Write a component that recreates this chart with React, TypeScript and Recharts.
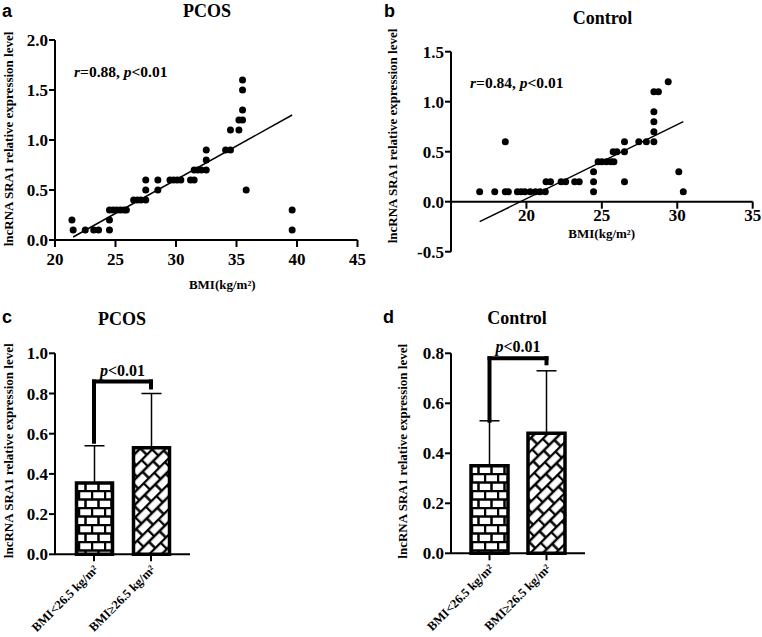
import React from "react";
import {
    Bar,
    BarChart,
    Cell,
    ErrorBar,
    Label,
    ReferenceLine,
    Scatter,
    ScatterChart,
    XAxis,
    YAxis,
} from "recharts";

const SERIF = '"Liberation Serif", "Times New Roman", serif';
const SANS = '"Liberation Sans", Arial, sans-serif';

// panel a - PCOS, BMI vs level
const pcosBmi = [21.4, 21.5, 22.5, 23.2, 23.6, 24.5, 24.5, 24.5, 24.8, 25.1, 25.4, 25.7, 25.9, 26.5, 26.8, 27.1, 27.5, 27.5, 27.5, 28.5, 28.5, 29.5, 29.8, 30.1, 30.4, 31.2, 31.5, 31.5, 31.8, 32.1, 32.5, 32.5, 32.5, 34.1, 34.5, 34.5, 35.2, 35.2, 35.5, 35.5, 35.5, 35.5, 35.8, 39.6, 39.6];
const pcosLevel = [0.2, 0.1, 0.1, 0.1, 0.1, 0.1, 0.2, 0.3, 0.3, 0.3, 0.3, 0.3, 0.3, 0.4, 0.4, 0.4, 0.4, 0.5, 0.6, 0.5, 0.6, 0.6, 0.6, 0.6, 0.6, 0.6, 0.6, 0.7, 0.7, 0.7, 0.7, 0.8, 0.9, 0.9, 0.9, 1.1, 1.1, 1.2, 1.2, 1.3, 1.5, 1.6, 0.5, 0.3, 0.1];
const pcosFitBmi = [21.5, 39.6];
const pcosFitLevel = [0.03, 1.25];
const aXTicks = [20, 25, 30, 35, 40, 45];
const aYTicks = [0, 0.5, 1, 1.5, 2];

// panel b - Control, BMI vs level
const ctrlBmi = [16.9, 17.9, 18.6, 18.6, 18.8, 19.4, 19.65, 19.9, 20.25, 20.6, 20.9, 21.25, 21.3, 21.6, 22.3, 22.6, 23.2, 23.5, 24.45, 24.45, 24.45, 24.75, 25.0, 25.3, 25.6, 25.8, 25.75, 26.0, 26.5, 26.5, 26.5, 27.45, 27.95, 28.45, 28.45, 28.45, 28.45, 28.45, 28.75, 29.4, 30.1, 30.4];
const ctrlLevel = [0.1, 0.1, 0.6, 0.1, 0.1, 0.1, 0.1, 0.1, 0.1, 0.1, 0.1, 0.1, 0.2, 0.2, 0.2, 0.2, 0.2, 0.2, 0.3, 0.2, 0.1, 0.4, 0.4, 0.4, 0.4, 0.4, 0.5, 0.5, 0.6, 0.5, 0.2, 0.6, 0.6, 0.6, 0.7, 0.8, 0.9, 1.1, 1.1, 1.2, 0.3, 0.1];
const ctrlFitBmi = [16.9, 30.4];
const ctrlFitLevel = [-0.2, 0.8];
const bXTicks = [20, 25, 30, 35];
const bYTicks = [-0.5, 0, 0.5, 1, 1.5];

// panels c, d - bar groups
const groups = ["BMI<26.5 kg/m²", "BMI≥26.5 kg/m²"];
const pcosMeans = [0.355, 0.53];
const pcosSd = [0.185, 0.27];
const ctrlMeans = [0.35, 0.48];
const ctrlSd = [0.18, 0.25];
const pcosBracket = [0.56, 0.86, 0.83];
const ctrlBracket = [0.53, 0.78, 0.76];
const cYTicks = [0, 0.2, 0.4, 0.6, 0.8, 1];
const dYTicks = [0, 0.2, 0.4, 0.6, 0.8];

const pcosPoints = pcosBmi.map((b, i) => ({ bmi: b, level: pcosLevel[i] }));
const ctrlPoints = ctrlBmi.map((b, i) => ({ bmi: b, level: ctrlLevel[i] }));
const pcosBars = groups.map((g, i) => ({ name: g, mean: pcosMeans[i], err: [0, pcosSd[i]] }));
const ctrlBars = groups.map((g, i) => ({ name: g, mean: ctrlMeans[i], err: [0, ctrlSd[i]] }));

const tickStyle = { fontFamily: SERIF, fontWeight: 700, fontSize: 17, fill: "#000" };
const axisStyle = { stroke: "#000", strokeWidth: 2 };
const fmt = (v: number) => v.toFixed(1);
const Y_TITLE = "lncRNA SRA1 relative expression level";

const Dot = (p: any) => <circle cx={p.cx} cy={p.cy} r={3.5} fill="#000" />;

const yTitle = (x: number, dy: number) => (p: any) => {
    const vb = p.viewBox;
    const cy = vb.y + vb.height / 2 + dy;
    return (
        <text
            x={x}
            y={cy}
            transform={`rotate(-90 ${x} ${cy})`}
            textAnchor="middle"
            dominantBaseline="central"
            fontFamily={SERIF}
            fontWeight={700}
            fontSize={13}
            fill="#000"
        >
            {Y_TITLE}
        </text>
    );
};

const xTitleA = (p: any) => {
    const vb = p.viewBox;
    return (
        <text x={vb.x + vb.width / 2 + 16} y={vb.y + 49} textAnchor="middle" fontFamily={SERIF} fontWeight={700} fontSize={13} fill="#000">
            BMI(kg/m²)
        </text>
    );
};

const pLabel = (lift: number) => (p: any) => {
    const vb = p.viewBox;
    return (
        <text x={vb.x + vb.width / 2} y={vb.y - lift} textAnchor="middle" fontFamily={SERIF} fontWeight={700} fontSize={16} fill="#000">
            <tspan fontStyle="italic">p</tspan>
            {"<0.01"}
        </text>
    );
};

function CatTick({ x, y, payload }: any) {
    return (
        <g transform={`translate(${x + 5}, ${y + 7}) rotate(-45)`}>
            <text x={0} y={0} textAnchor="end" fontFamily={SERIF} fontWeight={700} fontSize={12.5} fill="#000">
                {payload.value}
            </text>
        </g>
    );
}

export default function App() {
    return (
        <div style={{ position: "absolute", left: 0, top: 0, width: 762, height: 637, background: "#fff", overflow: "hidden" }}>
            {/* a */}
            <div style={{ position: "absolute", left: 0, top: 0 }}>
                <ScatterChart width={380} height={300} margin={{ top: 40, right: 22.5, bottom: 0, left: 0 }}>
                    <XAxis type="number" dataKey="bmi" domain={[20, 45]} ticks={aXTicks} axisLine={axisStyle} tickLine={axisStyle} tickSize={7} tickMargin={6} tick={tickStyle} height={60}>
                        <Label content={xTitleA} />
                    </XAxis>
                    <YAxis type="number" dataKey="level" domain={[0, 2]} ticks={aYTicks} tickFormatter={fmt} axisLine={axisStyle} tickLine={axisStyle} tickSize={6} tickMargin={1} tick={tickStyle} width={55}>
                        <Label content={yTitle(8, -1)} />
                    </YAxis>
                    <ReferenceLine segment={[{ x: pcosFitBmi[0], y: pcosFitLevel[0] }, { x: pcosFitBmi[1], y: pcosFitLevel[1] }]} stroke="#000" strokeWidth={1.5} />
                    <Scatter data={pcosPoints} shape={Dot} isAnimationActive={false} />
                </ScatterChart>
            </div>

            {/* b */}
            <div style={{ position: "absolute", left: 380, top: 0 }}>
                <ScatterChart width={382} height={300} margin={{ top: 51.7, right: 9.3, bottom: 48.3, left: 0 }}>
                    <XAxis type="number" dataKey="bmi" domain={[15, 35]} hide />
                    <YAxis type="number" dataKey="level" domain={[-0.5, 1.5]} ticks={bYTicks} tickFormatter={fmt} axisLine={axisStyle} tickLine={axisStyle} tickSize={6} tickMargin={1} tick={tickStyle} width={71}>
                        <Label content={yTitle(12, -15.7)} />
                    </YAxis>
                    <ReferenceLine y={0} stroke="#000" strokeWidth={2} />
                    {bXTicks.map((t) => (
                        <ReferenceLine
                            key={t}
                            segment={[{ x: t, y: 0 }, { x: t, y: -0.07 }]}
                            stroke="#000"
                            strokeWidth={2}
                            label={{ value: t, position: "bottom", offset: 0, ...tickStyle }}
                        />
                    ))}
                    <ReferenceLine segment={[{ x: ctrlFitBmi[0], y: ctrlFitLevel[0] }, { x: ctrlFitBmi[1], y: ctrlFitLevel[1] }]} stroke="#000" strokeWidth={1.5} />
                    <Scatter data={ctrlPoints} shape={Dot} isAnimationActive={false} />
                </ScatterChart>
            </div>

            {/* c */}
            <div style={{ position: "absolute", left: 0, top: 320 }}>
                <BarChart width={380} height={317} data={pcosBars} margin={{ top: 33.3, right: 190, bottom: 0, left: 0 }}>
                    <XAxis dataKey="name" interval={0} height={82.7} padding={{ left: 10.5, right: 10.5 }} axisLine={axisStyle} tickLine={axisStyle} tickSize={7} tickMargin={2} tick={<CatTick />} />
                    <YAxis domain={[0, 1]} ticks={cYTicks} tickFormatter={fmt} axisLine={axisStyle} tickLine={axisStyle} tickSize={6} tickMargin={1} tick={tickStyle} width={55}>
                        <Label content={yTitle(9, -3)} />
                    </YAxis>
                    <Bar dataKey="mean" barSize={36} stroke="#000" strokeWidth={3.5} isAnimationActive={false}>
                        <Cell fill="url(#brick)" />
                        <Cell fill="url(#diag)" />
                        <ErrorBar dataKey="err" width={10} stroke="#000" strokeWidth={1.5} />
                    </Bar>
                    <ReferenceLine segment={[{ x: groups[0], y: pcosBracket[0] }, { x: groups[0], y: pcosBracket[1] }]} stroke="#000" strokeWidth={4} strokeLinecap="square" />
                    <ReferenceLine segment={[{ x: groups[0], y: pcosBracket[1] }, { x: groups[1], y: pcosBracket[1] }]} stroke="#000" strokeWidth={4} strokeLinecap="square" label={{ content: pLabel(5) }} />
                    <ReferenceLine segment={[{ x: groups[1], y: pcosBracket[1] }, { x: groups[1], y: pcosBracket[2] }]} stroke="#000" strokeWidth={4} strokeLinecap="square" />
                </BarChart>
            </div>

            {/* d */}
            <div style={{ position: "absolute", left: 380, top: 320 }}>
                <BarChart width={382} height={317} data={ctrlBars} margin={{ top: 33.3, right: 177, bottom: 0, left: 0 }}>
                    <XAxis dataKey="name" interval={0} height={83.7} padding={{ left: 10, right: 10 }} axisLine={axisStyle} tickLine={axisStyle} tickSize={7} tickMargin={2} tick={<CatTick />} />
                    <YAxis domain={[0, 0.8]} ticks={dYTicks} tickFormatter={fmt} axisLine={axisStyle} tickLine={axisStyle} tickSize={6} tickMargin={1} tick={tickStyle} width={71}>
                        <Label content={yTitle(23, -2)} />
                    </YAxis>
                    <Bar dataKey="mean" barSize={37} stroke="#000" strokeWidth={3.5} isAnimationActive={false}>
                        <Cell fill="url(#brick)" />
                        <Cell fill="url(#diag)" />
                        <ErrorBar dataKey="err" width={10} stroke="#000" strokeWidth={1.5} />
                    </Bar>
                    <ReferenceLine segment={[{ x: groups[0], y: ctrlBracket[0] }, { x: groups[0], y: ctrlBracket[1] }]} stroke="#000" strokeWidth={4} strokeLinecap="square" />
                    <ReferenceLine segment={[{ x: groups[0], y: ctrlBracket[1] }, { x: groups[1], y: ctrlBracket[1] }]} stroke="#000" strokeWidth={4} strokeLinecap="square" label={{ content: pLabel(6) }} />
                    <ReferenceLine segment={[{ x: groups[1], y: ctrlBracket[1] }, { x: groups[1], y: ctrlBracket[2] }]} stroke="#000" strokeWidth={4} strokeLinecap="square" />
                </BarChart>
            </div>

            {/* panel letters, titles, annotations */}
            <svg width={762} height={637} style={{ position: "absolute", left: 0, top: 0, pointerEvents: "none" }}>
                <defs>
                    <pattern id="brick" width={13} height={17} patternUnits="userSpaceOnUse">
                        <rect width={13} height={17} fill="#fff" />
                        <path d="M0 1H13M0 9.5H13M1 1V9.5M7.5 9.5V18" stroke="#000" strokeWidth={2.5} />
                    </pattern>
                    <pattern id="diag" width={15} height={18} patternUnits="userSpaceOnUse" patternTransform="rotate(-45)">
                        <rect width={15} height={18} fill="#fff" />
                        <path d="M0 1H15M0 10H15M1 1V10M8.5 10V19" stroke="#000" strokeWidth={2.5} />
                    </pattern>
                </defs>
                <g fontFamily={SANS} fontWeight={700} fontSize={18} fill="#000">
                    <text x={2} y={17}>a</text>
                    <text x={384} y={17}>b</text>
                    <text x={2} y={323}>c</text>
                    <text x={383} y={323}>d</text>
                </g>
                <g fontFamily={SERIF} fontWeight={700} fontSize={18} fill="#000" textAnchor="middle">
                    <text x={207} y={17}>PCOS</text>
                    <text x={602.5} y={24}>Control</text>
                    <text x={122} y={325}>PCOS</text>
                    <text x={517} y={324}>Control</text>
                </g>
                <g fontFamily={SERIF} fontWeight={700} fontSize={15.5} fill="#000">
                    <text x={74} y={77}>
                        <tspan fontStyle="italic">r</tspan>=0.88, <tspan fontStyle="italic">p</tspan>{"<0.01"}
                    </text>
                    <text x={470} y={88}>
                        <tspan fontStyle="italic">r</tspan>=0.84, <tspan fontStyle="italic">p</tspan>{"<0.01"}
                    </text>
                </g>
                <text x={601.7} y={238} textAnchor="middle" fontFamily={SERIF} fontWeight={700} fontSize={13} fill="#000">
                    BMI(kg/m²)
                </text>
            </svg>
        </div>
    );
}
